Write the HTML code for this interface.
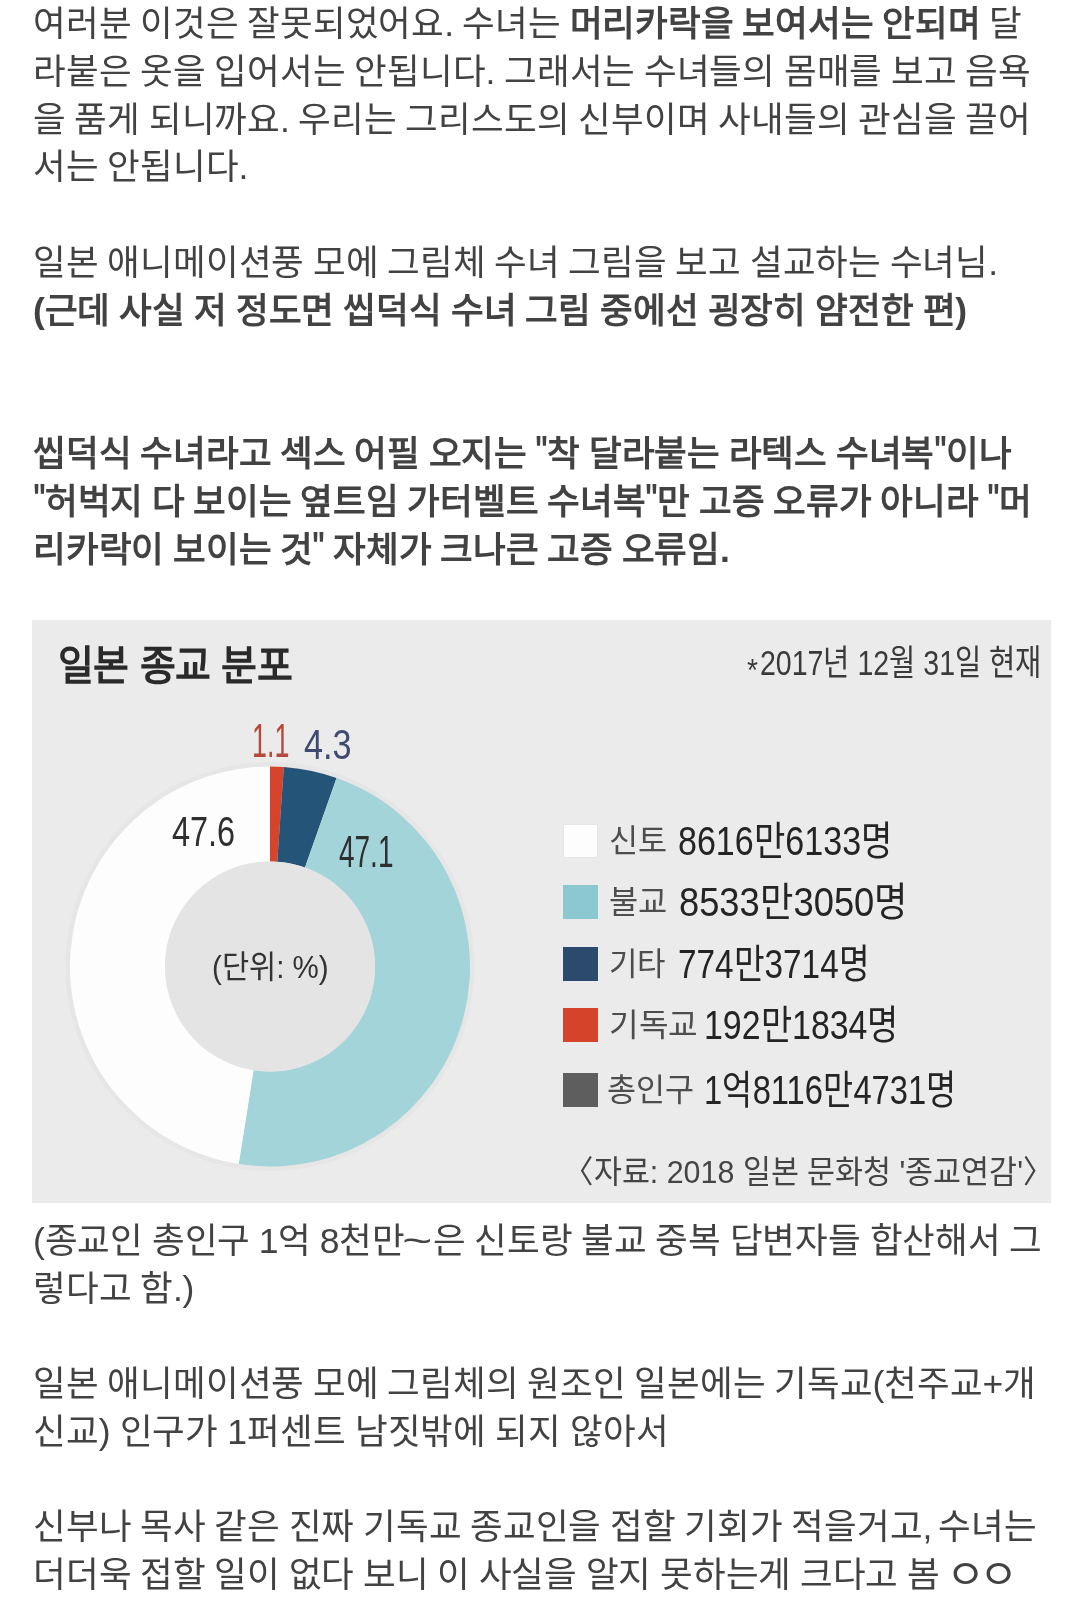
<!DOCTYPE html>
<html lang="zh-CN">
<head>
<meta charset="utf-8">
<style>
html,body{margin:0;padding:0;background:#fff;}
body{width:1080px;height:1618px;overflow:hidden;position:relative;font-family:"Liberation Sans",sans-serif;color:#424242;}
.blk{will-change:transform;position:absolute;left:33px;font-size:35.5px;line-height:47.73px;white-space:nowrap;word-spacing:-1.1px;letter-spacing:-0.17px;}
.ln{width:max-content;transform-origin:0 50%;}
.b{font-weight:bold;}
.q{font-style:normal;display:inline-block;transform:translateY(-3.8px) scale(0.8,1.1);margin:0 -2.5px;}
.cm{font-style:normal;margin-right:-2.9px;}
.oo{font-style:normal;display:inline-block;transform:translateX(0.8px) scale(1.2,1.14);}
.tl{font-style:normal;display:inline-block;transform:scaleX(1.45);margin:0 5px 0 2px;}
#chart{will-change:transform;position:absolute;left:32px;top:620px;width:1019px;height:583px;background:#ebebeb;overflow:hidden;}
#chart .t{position:absolute;white-space:nowrap;line-height:1;transform-origin:0 0;}
#donut{position:absolute;left:0;top:0;}
.sq{position:absolute;left:531px;width:35px;height:34px;}
</style>
</head>
<body>
<div class="blk" style="top:1px;line-height:47.82px">
<div class="ln">여러분 이것은 잘못되었어요. 수녀는 <span class="b">머리카락을 보여서는 안되며</span> 달</div>
<div class="ln">라붙은 옷을 입어서는 안됩니다. 그래서는 수녀들의 몸매를 보고 음욕</div>
<div class="ln">을 품게 되니까요. 우리는 그리스도의 신부이며 사내들의 관심을 끌어</div>
<div class="ln">서는 안됩니다.</div>
<div class="ln"><br></div>
<div class="ln">일본 애니메이션풍 모에 그림체 수녀 그림을 보고 설교하는 수녀님.</div>
<div class="ln"><span class="b" style="word-spacing:-0.7px">(근데 사실 저 정도면 씹덕식 수녀 그림 중에선 굉장히 얌전한 편)</span></div>
<div class="ln"><br></div>
<div class="ln"><br></div>
<div class="ln"><span class="b">씹덕식 수녀라고 섹스 어필 오지는 <i class="q">"</i>착 달라붙는 라텍스 수녀복<i class="q">"</i>이나</span></div>
<div class="ln"><span class="b"><i class="q">"</i>허벅지 다 보이는 옆트임 가터벨트 수녀복<i class="q">"</i>만 고증 오류가 아니라 <i class="q">"</i>머</span></div>
<div class="ln"><span class="b">리카락이 보이는 것<i class="q">"</i> 자체가 크나큰 고증 오류임.</span></div>
</div>
<div id="chart" style="">
<svg id="donut" width="1019" height="583" viewBox="0 0 1019 583"><circle cx="238" cy="346.5" r="204.5" fill="#e6e6e6"/>
<path d="M238.00,146.50 A200,200 0 0 1 251.81,146.98 L245.25,241.75 A105,105 0 0 0 238.00,241.50 Z" fill="#d6452b"/>
<path d="M251.81,146.98 A200,200 0 0 1 304.56,157.90 L272.95,247.49 A105,105 0 0 0 245.25,241.75 Z" fill="#255479"/>
<path d="M304.56,157.90 A200,200 0 0 1 206.71,544.04 L221.57,450.21 A105,105 0 0 0 272.95,247.49 Z" fill="#a3d4da"/>
<path d="M206.71,544.04 A200,200 0 0 1 237.97,146.50 L237.98,241.50 A105,105 0 0 0 221.57,450.21 Z" fill="#fdfdfd"/>
<circle cx="238" cy="346.5" r="105" fill="#e4e4e4"/></svg>
<div class="sq" style="top:203.9px;background:#fdfdfd;box-shadow:inset 0 0 0 1px #e6e6e6"></div>
<div class="sq" style="top:264.5px;background:#8cc8d0;"></div>
<div class="sq" style="top:326.7px;background:#2b4a6c;"></div>
<div class="sq" style="top:387.8px;background:#d5432b;"></div>
<div class="sq" style="top:452.7px;background:#5e5e5e;"></div>
<div class="t" id="title" style="left:26.00px;top:26.20px;font-size:40.75px;color:#2a2a2a;font-weight:bold;transform:scaleX(0.9566)">일본 종교 분포</div>
<div class="t" id="ast" style="left:714.60px;top:35.00px;font-size:31.30px;color:#3a3a3a;font-weight:normal;transform:scaleX(0.9016)">*</div>
<div class="t" id="date" style="left:727.80px;top:24.80px;font-size:35.00px;color:#3a3a3a;font-weight:normal;transform:scaleX(0.8153)">2017년 12월 31일 현재</div>
<div class="t" id="v11" style="left:220.20px;top:97.20px;font-size:47.71px;color:#b5493a;font-weight:normal;transform:scaleX(0.5630)">1.1</div>
<div class="t" id="v43" style="left:271.80px;top:103.00px;font-size:42.91px;color:#3e4a70;font-weight:normal;transform:scaleX(0.7963)">4.3</div>
<div class="t" id="v476" style="left:139.80px;top:189.60px;font-size:43.13px;color:#2f2f2f;font-weight:normal;transform:scaleX(0.7524)">47.6</div>
<div class="t" id="v471" style="left:306.60px;top:209.60px;font-size:44.63px;color:#2f2f2f;font-weight:normal;transform:scaleX(0.6269)">47.1</div>
<div class="t" id="unit" style="left:179.60px;top:332.00px;font-size:31.50px;color:#333;font-weight:300;transform:scaleX(0.9371)">(단위: %)</div>
<div class="t" id="lab1" style="left:577.00px;top:206.40px;font-size:31.58px;color:#4d4d4d;font-weight:300;transform:scaleX(1.0019)">신토</div>
<div class="t" id="num1" style="left:646.40px;top:202.00px;font-size:39.75px;color:#242424;font-weight:500;transform:scaleX(0.8560)">8616만6133명</div>
<div class="t" id="src" style="left:530.60px;top:537.00px;font-size:31.52px;color:#444;font-weight:normal;transform:scaleX(0.9646)">〈자료: 2018 일본 문화청 '종교연감'〉</div>
<div class="t" id="lab2" style="left:576.60px;top:267.00px;font-size:31.58px;color:#4d4d4d;font-weight:300;transform:scaleX(1.0051)">불교</div>
<div class="t" id="num2" style="left:646.60px;top:262.60px;font-size:39.75px;color:#242424;font-weight:500;transform:scaleX(0.9131)">8533만3050명</div>
<div class="t" id="lab3" style="left:576.60px;top:329.20px;font-size:31.58px;color:#4d4d4d;font-weight:300;transform:scaleX(0.9792)">기타</div>
<div class="t" id="num3" style="left:646.20px;top:324.80px;font-size:39.75px;color:#242424;font-weight:500;transform:scaleX(0.8378)">774만3714명</div>
<div class="t" id="lab4" style="left:576.60px;top:390.30px;font-size:31.58px;color:#4d4d4d;font-weight:300;transform:scaleX(1.0194)">기독교</div>
<div class="t" id="num4" style="left:672.20px;top:385.90px;font-size:39.75px;color:#242424;font-weight:500;transform:scaleX(0.8525)">192만1834명</div>
<div class="t" id="lab5" style="left:574.60px;top:455.20px;font-size:31.58px;color:#4d4d4d;font-weight:300;transform:scaleX(1.0003)">총인구</div>
<div class="t" id="num5" style="left:671.50px;top:450.80px;font-size:39.75px;color:#242424;font-weight:500;transform:scaleX(0.8227)">1억8116만4731명</div>
</div>
<div class="blk" style="top:1218px">
<div class="ln">(종교인 총인구 1억 8천만<i class="tl">~</i>은 신토랑 불교 중복 답변자들 합산해서 그</div>
<div class="ln">렇다고 함.)</div>
<div class="ln"><br></div>
<div class="ln">일본 애니메이션풍 모에 그림체의 원조인 일본에는 기독교(천주교+개</div>
<div class="ln"><span style="word-spacing:-0.42px">신교) 인구가 1퍼센트 남짓밖에 되지 않아서</span></div>
<div class="ln"><br></div>
<div class="ln">신부나 목사 같은 진짜 기독교 종교인을 접할 기회가 적을거고<i class="cm">,</i> 수녀는</div>
<div class="ln">더더욱 접할 일이 없다 보니 이 사실을 알지 못하는게 크다고 봄 <i class="oo">ㅇ</i><i class="oo">ㅇ</i></div>
</div>
<script>
(function(){
var W=[989.11, 997.69, 997.69, 215.28, 0, 964.86, 933.98, 0, 0, 978.53, 998.78, 696.7, 1009.3, 161.27, 0, 1003.02, 635.7, 0, 1003.41, 980.97];
var L=document.querySelectorAll(".ln");
for(var i=0;i<L.length&&i<W.length;i++){var w=L[i].getBoundingClientRect().width;if(w>0&&W[i]>0){var s=W[i]/w;if(Math.abs(s-1)>0.004)L[i].style.transform="scaleX("+s.toFixed(4)+")";}}
var C=[[245, 0.9566], [12, 0.9016], [345, 0.8153], [66, 0.563], [60, 0.7963], [84, 0.7524], [87, 0.6269], [125, 0.9371], [58, 1.0019], [251, 0.856], [509, 0.9646], [58, 1.0051], [251, 0.9131], [58, 0.9792], [229, 0.8378], [87, 1.0194], [229, 0.8525], [87, 1.0003], [307, 0.8227]];
var T=document.querySelectorAll("#chart .t");
for(var j=0;j<T.length&&j<C.length;j++){var e=T[j],w2=e.offsetWidth;if(w2>0){var k=C[j][0]/w2;if(Math.abs(k-1)>0.004)e.style.transform="scaleX("+(C[j][1]*k).toFixed(4)+")";}}
})();
</script>
</body>
</html>
